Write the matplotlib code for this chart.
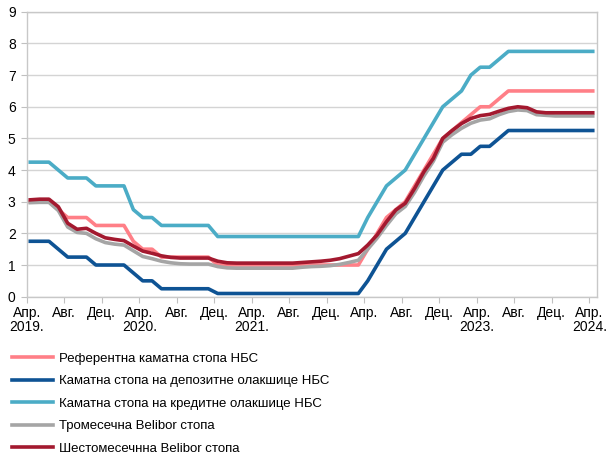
import numpy as np
import matplotlib
matplotlib.use("Agg")
import matplotlib.pyplot as plt

plt.rcParams['font.family'] = ['Liberation Sans', 'DejaVu Sans']

# monthly data, Apr 2019 .. Apr 2024 (61 points)
referentna = ([3.0, 3.0, 3.0, 2.75, 2.5, 2.5, 2.5, 2.25, 2.25, 2.25, 2.25, 1.75,
               1.5, 1.5] + [1.25] * 6 + [1.0] * 16 +
              [1.5, 2.0, 2.5, 2.75, 3.0, 3.5, 4.0, 4.5, 5.0, 5.25, 5.5, 5.75,
               6.0, 6.0, 6.25] + [6.5] * 10)
depozitne = ([1.75, 1.75, 1.75, 1.5, 1.25, 1.25, 1.25, 1.0, 1.0, 1.0, 1.0, 0.75,
              0.5, 0.5] + [0.25] * 6 + [0.1] * 16 +
             [0.5, 1.0, 1.5, 1.75, 2.0, 2.5, 3.0, 3.5, 4.0, 4.25, 4.5, 4.5,
              4.75, 4.75, 5.0] + [5.25] * 10)
kreditne = ([4.25, 4.25, 4.25, 4.0, 3.75, 3.75, 3.75, 3.5, 3.5, 3.5, 3.5, 2.75,
             2.5, 2.5] + [2.25] * 6 + [1.9] * 16 +
            [2.5, 3.0, 3.5, 3.75, 4.0, 4.5, 5.0, 5.5, 6.0, 6.25, 6.5, 7.0,
             7.25, 7.25, 7.5] + [7.75] * 10)
belibor_3m = [2.97, 2.98, 2.98, 2.72, 2.2, 2.03, 2.0, 1.83, 1.71, 1.66, 1.63, 1.45,
              1.27, 1.2, 1.12, 1.07, 1.04, 1.03, 1.03, 1.03,
              0.95, 0.91, 0.9, 0.9, 0.9, 0.9, 0.9, 0.9, 0.9, 0.93, 0.95, 0.96,
              0.98, 1.02, 1.08, 1.15,
              1.5, 1.85, 2.25, 2.62, 2.85, 3.3, 3.82, 4.28, 4.88, 5.12, 5.32, 5.48,
              5.58, 5.62, 5.75, 5.85, 5.9, 5.88, 5.75, 5.73, 5.71, 5.71, 5.71, 5.71, 5.71]
belibor_6m = [3.06, 3.08, 3.08, 2.84, 2.32, 2.13, 2.16, 2.0, 1.86, 1.81, 1.77, 1.6,
              1.44, 1.37, 1.29, 1.24, 1.22, 1.22, 1.22, 1.22,
              1.12, 1.07, 1.06, 1.06, 1.06, 1.06, 1.06, 1.06, 1.06, 1.08, 1.1, 1.12,
              1.15, 1.2, 1.28, 1.36,
              1.63, 1.95, 2.37, 2.74, 2.95, 3.42, 3.95, 4.37, 5.0, 5.25, 5.47, 5.63,
              5.72, 5.76, 5.86, 5.95, 6.0, 5.97, 5.84, 5.81, 5.81, 5.81, 5.81, 5.81, 5.81]

tick_labels = ['Апр.\n2019.', 'Авг.', 'Дец.', 'Апр.\n2020.', 'Авг.', 'Дец.',
               'Апр.\n2021.', 'Авг.', 'Дец.', 'Апр.', 'Авг.', 'Дец.',
               'Апр.\n2023.', 'Авг.', 'Дец.', 'Апр.\n2024.']

series = [
    ('Референтна каматна стопа НБС', referentna, '#ff7f87'),
    ('Каматна стопа на депозитне олакшице НБС', depozitne, '#0e5394'),
    ('Каматна стопа на кредитне олакшице НБС', kreditne, '#4bacc6'),
    ('Тромесечна Belibor стопа', belibor_3m, '#a5a5a5'),
    ('Шестомесечнна Belibor стопа', belibor_6m, '#a3192f'),
]

offset = 0.37  # points sit a bit right of the month ticks
x = np.arange(len(referentna)) + offset

fig = plt.figure(figsize=(6.08, 4.55), dpi=100)
ax = fig.add_axes([0.044, 0.348, 0.938, 0.626])

for label, vals, col in series:
    ax.plot(x, vals, color=col, lw=2.6, label=label, solid_joinstyle='round')

ax.set_xlim(0, 60.83)
ax.set_ylim(0, 9)
ax.set_yticks(range(0, 10))
ax.set_xticks(np.arange(0, 61, 4))
ax.set_xticklabels(tick_labels, linespacing=1.05)
ax.grid(axis='y', color='#d4d4d4', lw=1)
ax.set_axisbelow(True)
for s in ax.spines.values():
    s.set_color('#c8c8c8')
    s.set_linewidth(1)
ax.tick_params(axis='both', colors='#c0c0c0', labelcolor='black', labelsize=10, length=4, pad=2.5)
ax.tick_params(axis='y', pad=4)

fig.legend(loc='upper left', bbox_to_anchor=(0.02, 0.225), frameon=False,
           fontsize=9.5, handlelength=3.1, handletextpad=0.45, labelspacing=0.78,
           borderpad=0, borderaxespad=0)

fig.savefig('out.png', dpi=100)
